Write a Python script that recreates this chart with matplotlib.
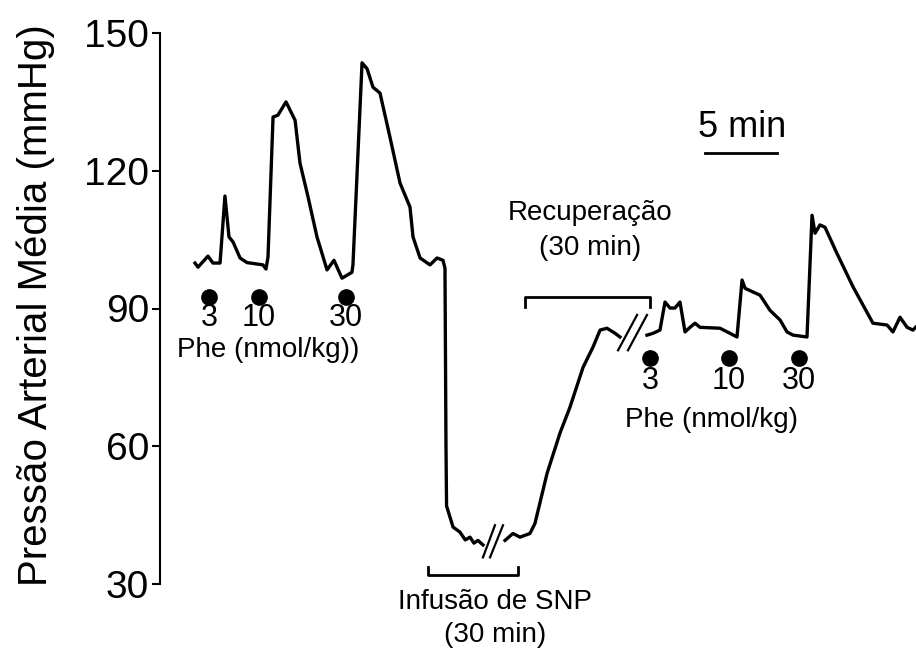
import numpy as np
import matplotlib
matplotlib.use("Agg")
import matplotlib.pyplot as plt

plt.rcParams['font.family'] = ['Liberation Sans Narrow', 'Liberation Sans', 'DejaVu Sans']

# trace, time in minutes, pressure in mmHg (three pieces separated by // breaks)
t1 = [2.43, 2.64, 3.33, 3.68, 4.17, 4.51, 4.79, 5.07, 5.56, 6.04, 7.15, 7.36, 7.5,
      7.85, 8.19, 8.75, 9.38, 9.72, 10.28, 10.9, 11.6, 12.08, 12.64, 13.33, 13.4,
      14.03, 14.38, 14.79, 15.28, 15.97, 16.67, 17.36, 17.57, 18.06, 18.75, 19.24,
      19.65, 19.79, 19.86, 19.9, 20.35, 20.83, 21.2, 21.53, 21.8, 22.08, 22.43]
p1 = [99.9, 99.0, 101.4, 99.9, 99.9, 114.5, 105.6, 104.5, 101.0, 100.0, 99.5, 98.6, 101.2,
      131.7, 132.1, 135.0, 131.0, 121.7, 114.3, 105.6, 98.4, 100.5, 96.6, 97.9, 99.5,
      143.5, 142.2, 138.2, 136.9, 127.3, 117.3, 112.1, 105.6, 101.0, 99.5, 101.0,
      100.5, 98.8, 60.0, 47.0, 42.4, 41.3, 39.6, 40.2, 38.9, 39.5, 38.5]
t2 = [23.96, 24.51, 25.0, 25.69, 26.04, 26.88, 27.78, 28.47, 29.38, 30.07, 30.56,
      31.04, 31.6, 31.94]
p2 = [39.5, 41.0, 40.2, 41.0, 43.2, 54.1, 62.9, 68.5, 77.2, 81.6, 85.3,
      85.7, 84.6, 83.8]
t3 = [33.82, 34.24, 34.72, 35.07, 35.42, 35.76, 36.11, 36.46, 36.81, 37.15, 37.5,
      38.89, 39.58, 40.07, 40.42, 40.63, 41.18, 41.67, 42.36, 43.06, 43.54, 43.96,
      44.93, 45.28, 45.49, 45.83, 46.18, 47.01, 48.13, 49.51, 50.49, 50.9, 51.39,
      51.88, 52.29, 52.5]
p3 = [84.2, 84.6, 85.3, 91.4, 90.1, 90.1, 91.4, 84.9, 85.9, 86.8, 85.9,
      85.7, 84.6, 83.8, 96.2, 94.4, 93.6, 92.9, 89.6, 87.5, 84.9, 84.2,
      83.8, 110.3, 106.4, 108.2, 107.7, 102.0, 94.7, 86.8, 86.4, 84.9, 88.1,
      85.9, 85.3, 86.0]

# phenylephrine doses
doses = ["3", "10", "30"]
dose_t_before = [3.4, 6.88, 12.92]
dose_t_after = [34.03, 39.51, 44.38]

yticks = [30, 60, 90, 120, 150]

fig = plt.figure(figsize=(9.16, 6.63), dpi=100)
ax = fig.add_axes([160 / 916, 1 - 584 / 663, 756 / 916, 551 / 663])
ax.set_xlim(0, 52.5)
ax.set_ylim(30, 150)

lw = 2.4
for t, p in [(t1, p1), (t2, p2), (t3, p3)]:
    ax.plot(t, p, color='black', lw=lw, solid_joinstyle='round', clip_on=False)

# break marks
for x0, x1, y0, y1 in [(22.43, 23.26, 35.8, 42.8), (22.92, 23.82, 35.8, 42.8),
                       (31.81, 33.13, 80.9, 88.6), (32.5, 33.82, 80.9, 88.6)]:
    ax.plot([x0, x1], [y0, y1], color='black', lw=1.6, clip_on=False)

# dose markers
ax.plot(dose_t_before, [92.5] * 3, 'o', color='black', ms=11, clip_on=False)
ax.plot(dose_t_after, [79.2] * 3, 'o', color='black', ms=11, clip_on=False)
for d, t in zip(doses, dose_t_before):
    ax.text(t, 87.9, d, ha='center', va='center', fontsize=22)
for d, t in zip(doses, dose_t_after):
    ax.text(t, 74.2, d, ha='center', va='center', fontsize=22)
ax.text(7.5, 80.9, "Phe (nmol/kg))", ha='center', va='center', fontsize=20)
ax.text(38.33, 65.7, "Phe (nmol/kg)", ha='center', va='center', fontsize=20)

# recovery bracket
ax.plot([25.35, 25.35, 34.03, 34.03], [90.3, 92.5, 92.5, 90.3], color='black', lw=2, clip_on=False)
ax.text(29.86, 110.8, "Recuperação", ha='center', va='center', fontsize=20)
ax.text(29.86, 103.2, "(30 min)", ha='center', va='center', fontsize=20)

# SNP infusion bracket
ax.plot([18.6, 18.6, 24.86, 24.86], [33.7, 31.9, 31.9, 33.7], color='black', lw=2, clip_on=False)
ax.text(23.26, 26.0, "Infusão de SNP", ha='center', va='center', fontsize=20)
ax.text(23.26, 18.8, "(30 min)", ha='center', va='center', fontsize=20)

# 5 min scale bar
ax.plot([37.85, 42.85], [123.9, 123.9], color='black', lw=2, clip_on=False)
ax.text(40.4, 129.5, "5 min", ha='center', va='center', fontsize=26,
        family=['Liberation Sans', 'DejaVu Sans'])

ax.set_yticks(yticks)
ax.set_yticklabels([str(v) for v in yticks], fontsize=28, family=['Liberation Sans', 'DejaVu Sans'])
ax.tick_params(axis='y', length=6, width=1.5, pad=2)
ax.set_xticks([])
for s in ['top', 'right', 'bottom']:
    ax.spines[s].set_visible(False)
ax.spines['left'].set_linewidth(1.5)

fig.text(36 / 916, 1 - 305 / 663, "Pressão Arterial Média (mmHg)", rotation=90,
         ha='center', va='center', fontsize=29, family=['Liberation Sans', 'DejaVu Sans'])

fig.savefig("out.png", dpi=100)
